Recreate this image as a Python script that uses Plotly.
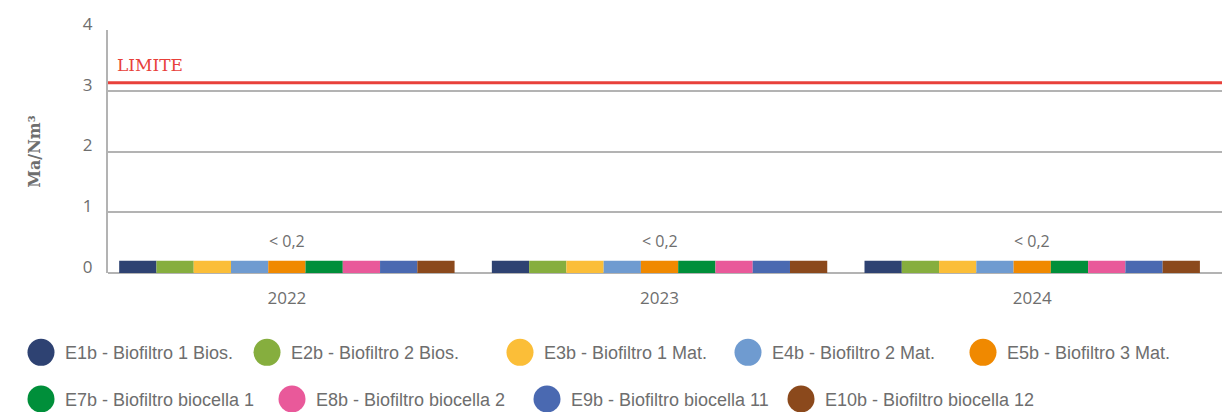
import plotly.graph_objects as go

# ---------------- data ----------------
years = ["2022", "2023", "2024"]
series_names = [
    "E1b - Biofiltro 1 Bios.",
    "E2b - Biofiltro 2 Bios.",
    "E3b - Biofiltro 1 Mat.",
    "E4b - Biofiltro 2 Mat.",
    "E5b - Biofiltro 3 Mat.",
    "E7b - Biofiltro biocella 1",
    "E8b - Biofiltro biocella 2",
    "E9b - Biofiltro biocella 11",
    "E10b - Biofiltro biocella 12",
]
series_values = [
    [0.2, 0.2, 0.2],
    [0.2, 0.2, 0.2],
    [0.2, 0.2, 0.2],
    [0.2, 0.2, 0.2],
    [0.2, 0.2, 0.2],
    [0.2, 0.2, 0.2],
    [0.2, 0.2, 0.2],
    [0.2, 0.2, 0.2],
    [0.2, 0.2, 0.2],
]
value_labels = ["< 0,2", "< 0,2", "< 0,2"]
limit_value = 3.13
limit_label = "LIMITE"
y_title = "Ma/Nm³"
y_ticks = [0, 1, 2, 3, 4]

# ---------------- style ----------------
colors = ["#2e4272", "#86ae3e", "#fbbe38", "#6f9bd0", "#f08900",
          "#008f3a", "#e9599a", "#4a69b1", "#8b491c"]
OFF = 8  # page body margin offset
W, H = 1230 - OFF, 412 - OFF
L, R, T = 108 - OFF, 4, 28 - OFF
B = H - (273 - OFF)
PLOT_W = W - L - R
PLOT_H = H - T - B
GRAY = "#b3b3b3"
TXT = "#6e6e6e"

def px_x(px):
    return (px - OFF - L) / PLOT_W

def px_y(py):
    return (H - B - (py - OFF)) / PLOT_H

def esc(s):
    return s.replace("&", "&amp;").replace("<", "&lt;").replace(">", "&gt;")

# legend layout (page pixel positions of circle centres)
legend_pos = [(41, 353), (267, 353), (520, 353), (748, 353), (983, 353),
              (41, 400), (292, 400), (547, 400), (801, 400)]

fig = go.Figure()
for name, vals, col in zip(series_names, series_values, colors):
    fig.add_trace(go.Bar(
        x=years, y=vals, name=name,
        marker=dict(color=col, line=dict(width=0)),
        showlegend=False,
    ))

shapes = [
    dict(type="line", xref="paper", x0=0, x1=1, yref="y",
         y0=limit_value, y1=limit_value,
         line=dict(color="#e8403a", width=3), layer="above"),
]
annotations = [
    dict(xref="paper", x=0, yref="y", y=limit_value, text=limit_label,
         xanchor="left", yanchor="middle", xshift=7, yshift=18, showarrow=False,
         font=dict(family="DejaVu Serif", size=17, color="#e8403a")),
]
for i, (lab, vals) in enumerate(zip(value_labels, zip(*series_values))):
    annotations.append(dict(
        xref="x", x=i, yref="y", y=max(vals), text=esc(lab), showarrow=False,
        xanchor="center", yanchor="middle", yshift=20,
        font=dict(family="Open Sans", size=16, color=TXT)))

for (cx, cy), name, col in zip(legend_pos, series_names, colors):
    shapes.append(dict(
        type="circle", xref="paper", yref="paper",
        xsizemode="pixel", ysizemode="pixel",
        xanchor=px_x(cx), yanchor=px_y(cy),
        x0=-13.5, x1=13.5, y0=-13.5, y1=13.5,
        fillcolor=col, line=dict(width=0)))
    annotations.append(dict(
        xref="paper", yref="paper", x=px_x(cx + 22), y=px_y(cy + 1),
        text=esc(name), showarrow=False, xanchor="left", yanchor="middle",
        font=dict(family="Liberation Sans", size=18, color=TXT)))

fig.update_layout(
    width=W, height=H,
    margin=dict(l=L, r=R, t=T, b=B, pad=0),
    paper_bgcolor="white", plot_bgcolor="white",
    barmode="group", bargap=0.1, bargroupgap=0,
    shapes=shapes, annotations=annotations,
    showlegend=False,
)
fig.update_xaxes(
    type="category", range=[-0.48, 2.52],
    showgrid=False, showline=False, zeroline=False,
    ticks="outside", ticklen=0, ticklabelstandoff=10,
    tickfont=dict(family="Open Sans", size=17, color=TXT),
)
fig.update_yaxes(
    range=[0, 4], tickvals=y_ticks,
    showgrid=True, gridcolor=GRAY, gridwidth=2,
    zeroline=True, zerolinecolor=GRAY, zerolinewidth=2,
    showline=True, linecolor=GRAY, linewidth=2,
    ticks="outside", ticklen=0, ticklabelstandoff=10, ticklabelshift=-6,
    tickfont=dict(family="Open Sans", size=17, color=TXT),
    title=dict(text=y_title, standoff=38,
               font=dict(family="DejaVu Serif", size=16, color=TXT, weight="bold")),
)

fig.write_html("out.html")
